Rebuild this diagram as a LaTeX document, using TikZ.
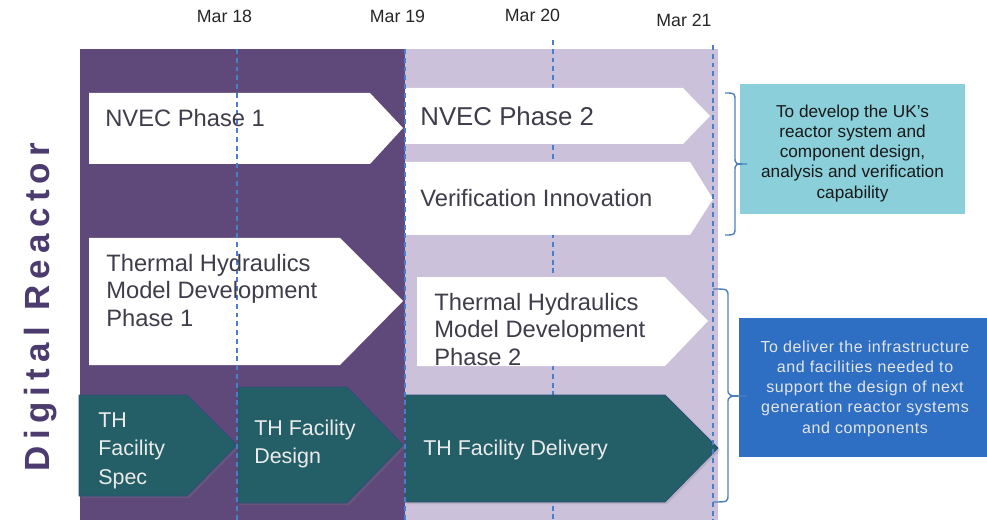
\documentclass[tikz,border=0pt]{standalone}
\usepackage{fontspec}
\setmainfont{Liberation Sans}
\usepackage{tikz}
\usetikzlibrary{shadows}

\definecolor{bandDark}{HTML}{5F497A}
\definecolor{bandLight}{HTML}{CCC1DA}
\definecolor{buildTeal}{HTML}{245E67}
\definecolor{buildEdge}{HTML}{2F4E7A}
\definecolor{phaseGrey}{HTML}{3F3D4A}
\definecolor{gridBlue}{HTML}{4A7EC8}
\definecolor{braceBlue}{HTML}{4F81BD}
\definecolor{aimTeal}{HTML}{8ACFD9}
\definecolor{goalBlue}{HTML}{2E6FC3}
\definecolor{labelPurple}{HTML}{4B3B6E}

\begin{document}
\begin{tikzpicture}[
    x=0.02cm, y=-0.02cm,
    phase/.style={fill=white},
    build/.style={fill=buildTeal, draw=buildEdge, line width=0.5pt, drop shadow={shadow xshift=1.2pt, shadow yshift=-1.2pt, opacity=0.25}},
    phasetext/.style={anchor=north west, inner sep=0pt, align=left, text=phaseGrey, font=\fontsize{13.5}{15.65}\selectfont},
    buildtext/.style={anchor=north west, inner sep=0pt, align=left, text=white!92!black, font=\fontsize{12.2}{16.1}\selectfont},
    datelabel/.style={anchor=base, inner sep=0pt, text=black!85, font=\fontsize{10.1}{12}\selectfont},
    gridline/.style={draw=gridBlue, line width=0.85pt, dash pattern=on 2.8pt off 2.2pt},
    bracket/.style={draw=braceBlue, line width=0.8pt},
    aimtext/.style={align=center, inner sep=0pt}
]
    \useasboundingbox (0,0) rectangle (987,520);

    % year bands
    \fill[bandDark] (80,49) rectangle (405,520);
    \fill[bandLight] (405,49) rectangle (718,520);

    % milestones
    \node[datelabel] (mar18) at (224.5,23) {Mar 18};
    \node[datelabel] (mar19) at (397.5,23) {Mar 19};
    \node[datelabel] (mar20) at (532.5,22) {Mar 20};
    \node[datelabel] (mar21) at (684,26.5) {Mar 21};
    \coordinate (m18top) at (237,49);  \coordinate (m18bot) at (237,520);
    \coordinate (m19top) at (405,49);  \coordinate (m19bot) at (405,520);
    \coordinate (m20top) at (553,40);  \coordinate (m20bot) at (553,520);
    \coordinate (m21top) at (713,45);  \coordinate (m21bot) at (713,520);
    \draw[gridline] (m20top) -- (m20bot);

    % modelling work packages
    \fill[phase] (89,93) -- (370,93) -- (403,128) -- (370,164) -- (89,164) -- cycle;
    \fill[phase] (405,88) -- (683,88) -- (710,116) -- (683,144) -- (405,144) -- cycle;
    \fill[phase] (405,162) -- (690,162) -- (713,199) -- (690,235) -- (405,235) -- cycle;
    \fill[phase] (89,238) -- (340,238) -- (403,301) -- (340,365) -- (89,365) -- cycle;
    \fill[phase] (417,277) -- (665,277) -- (708,321) -- (665,366) -- (417,366) -- cycle;

    % facility work packages
    \filldraw[build] (79,395) -- (187,395) -- (237,445) -- (187,496) -- (79,496) -- cycle;
    \filldraw[build] (238,387) -- (347,387) -- (403,445) -- (347,503) -- (238,503) -- cycle;
    \filldraw[build] (405,395) -- (665,395) -- (718,448) -- (665,502) -- (405,502) -- cycle;

    \draw[gridline] (m18top) -- (m18bot);
    \draw[gridline] (m19top) -- (m19bot);
    \draw[gridline] (m21top) -- (m21bot);

    \node[phasetext, anchor=base west] (nvec1) at (105,127) {NVEC Phase 1};
    \node[phasetext, anchor=base west, font=\fontsize{14.7}{16}\selectfont] (nvec2) at (420,126) {NVEC Phase 2};
    \node[phasetext, anchor=base west] (verif) at (420,207) {Verification Innovation};
    \node[phasetext] (thmd1) at (106,253.6) {Thermal Hydraulics\\Model Development\\Phase 1};
    \node[phasetext] (thmd2) at (434,292.6) {Thermal Hydraulics\\Model Development\\Phase 2};

    \node[buildtext] (spec) at (98,412.6) {TH\\Facility\\Spec};
    \node[buildtext, font=\fontsize{12.2}{15.9}\selectfont] (design) at (254,419.3) {TH Facility\\Design};
    \node[buildtext, anchor=base west] (delivery) at (423,455) {TH Facility Delivery};

    % programme title
    \node[rotate=90, text=labelPurple, font=\fontsize{19.9}{24}\selectfont\bfseries\addfontfeature{LetterSpace=18}] (title) at (41,307) {Digital Reactor};

    % aims
    \node[fill=aimTeal, minimum width=4.5cm, minimum height=2.6cm, inner sep=0pt] (aimbox) at (852.5,149) {};
    \node[aimtext, text=black!90, font=\fontsize{9.8}{11.4}\selectfont] (aim) at (852.5,153.5)
        {To develop the UK\char39 s\\reactor system and\\component design,\\analysis and verification\\capability};
    \node[fill=goalBlue, minimum width=4.96cm, minimum height=2.78cm, inner sep=0pt] (goalbox) at (863,387.5) {};
    \node[aimtext, text=white!90!black, font=\fontsize{9.1}{11.5}\selectfont\addfontfeature{LetterSpace=4}] (goal) at (865,388.5)
        {To deliver the infrastructure\\and facilities needed to\\support the design of next\\generation reactor systems\\and components};

    % braces
    \coordinate (b1top) at (725,93);  \coordinate (b1tip) at (747,164);  \coordinate (b1bot) at (725,235);
    \coordinate (b2top) at (713,289); \coordinate (b2tip) at (747,396);  \coordinate (b2bot) at (713,502);
    \draw[bracket] (b1top) .. controls (735,93) .. (735,101) -- (735,157) .. controls (735,164) .. (b1tip)
        .. controls (735,164) .. (735,171) -- (735,227) .. controls (735,235) .. (b1bot);
    \draw[bracket] (b2top) .. controls (728,289) .. (728,297) -- (728,389) .. controls (728,396) .. (b2tip)
        .. controls (728,396) .. (728,403) -- (728,494) .. controls (728,502) .. (b2bot);
\end{tikzpicture}
\end{document}
